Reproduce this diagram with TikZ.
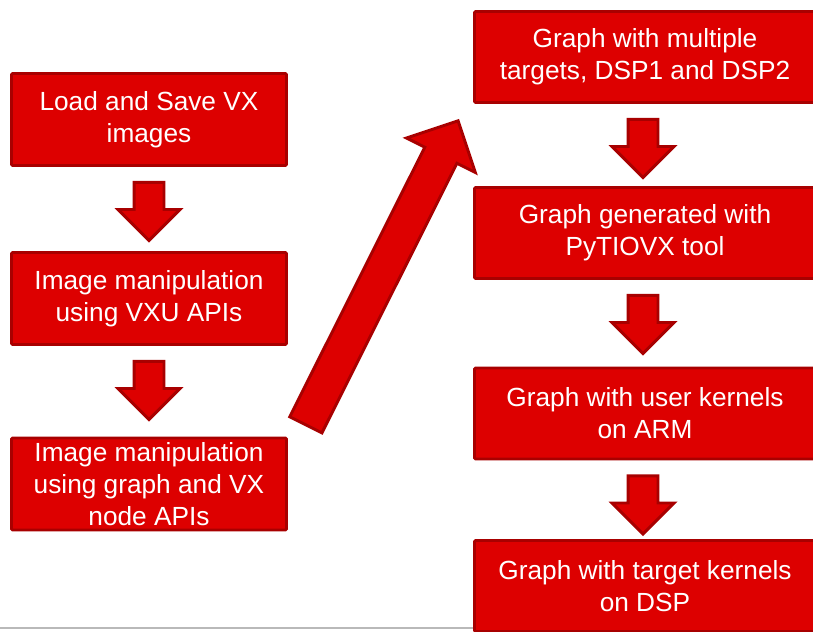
\documentclass[tikz,border=0pt]{standalone}
\usepackage{fontspec}
\setmainfont{Liberation Sans}
\usetikzlibrary{shapes.arrows,calc}
\definecolor{boxred}{RGB}{221,0,0}
\definecolor{edgered}{RGB}{168,0,0}
\definecolor{rulegray}{RGB}{185,185,185}

\begin{document}
\begin{tikzpicture}[x=0.03cm,y=-0.03cm]
  \tikzstyle{box}=[rectangle,fill=boxred,draw=edgered,line width=2.5pt,rounded corners=1pt,
    text=white,align=center,inner sep=0pt,font=\fontsize{22.4}{27.3}\selectfont]
  \tikzstyle{leftbox}=[box,minimum width=8.25cm,minimum height=2.76cm]
  \tikzstyle{rightbox}=[box,minimum width=10.23cm,minimum height=2.73cm]
  \tikzstyle{downarrow}=[single arrow,fill=boxred,draw=edgered,line width=2.5pt,
    minimum height=1.74cm,minimum width=1.77cm,single arrow head extend=0.48cm,
    inner xsep=0pt,inner ysep=0.405cm,rotate=-90,anchor=tail]
  \tikzstyle{bigarrow}=[single arrow,fill=boxred,draw=edgered,line width=2.5pt,
    minimum height=10.2cm,minimum width=2.22cm,single arrow head extend=0.615cm,
    inner xsep=0pt,inner ysep=0.495cm,anchor=tip]

  \useasboundingbox (0,0) rectangle (813,631);

  % rule at the bottom
  \coordinate (r-l) at (0,628);
  \coordinate (r-r) at (813,628);
  \draw[rulegray,line width=1.6pt] (r-l) -- (r-r);

  \node[leftbox] (load) at (149,119.5) {Load and Save VX\\images};
  \node[leftbox] (vxu) at (149,298.5) {Image manipulation\\using VXU APIs};
  \node[leftbox] (vxgraph) at (149,484) {Image manipulation\\using graph and VX\\node APIs};

  \node[rightbox] (multi) at (645,57) {Graph with multiple\\targets, DSP1 and DSP2};
  \node[rightbox] (pytiovx) at (645,233) {Graph generated with\\PyTIOVX tool};
  \node[rightbox] (userk) at (645,413.5) {Graph with user kernels\\on ARM};
  \node[rightbox] (targetk) at (645,586) {Graph with target kernels\\on DSP};

  \foreach \src in {load,vxu}
    \node[downarrow] (arr-\src) at ($(\src.south)+(0,14)$) {};

  \foreach \src in {multi,pytiovx,userk}
    \node[downarrow] (arr-\src) at ($(\src.south)+(-2,14)$) {};

  \node[bigarrow,rotate=63.4] (arr-jump) at ($(multi.south west)+(-14,15)$) {};

\end{tikzpicture}
\end{document}
